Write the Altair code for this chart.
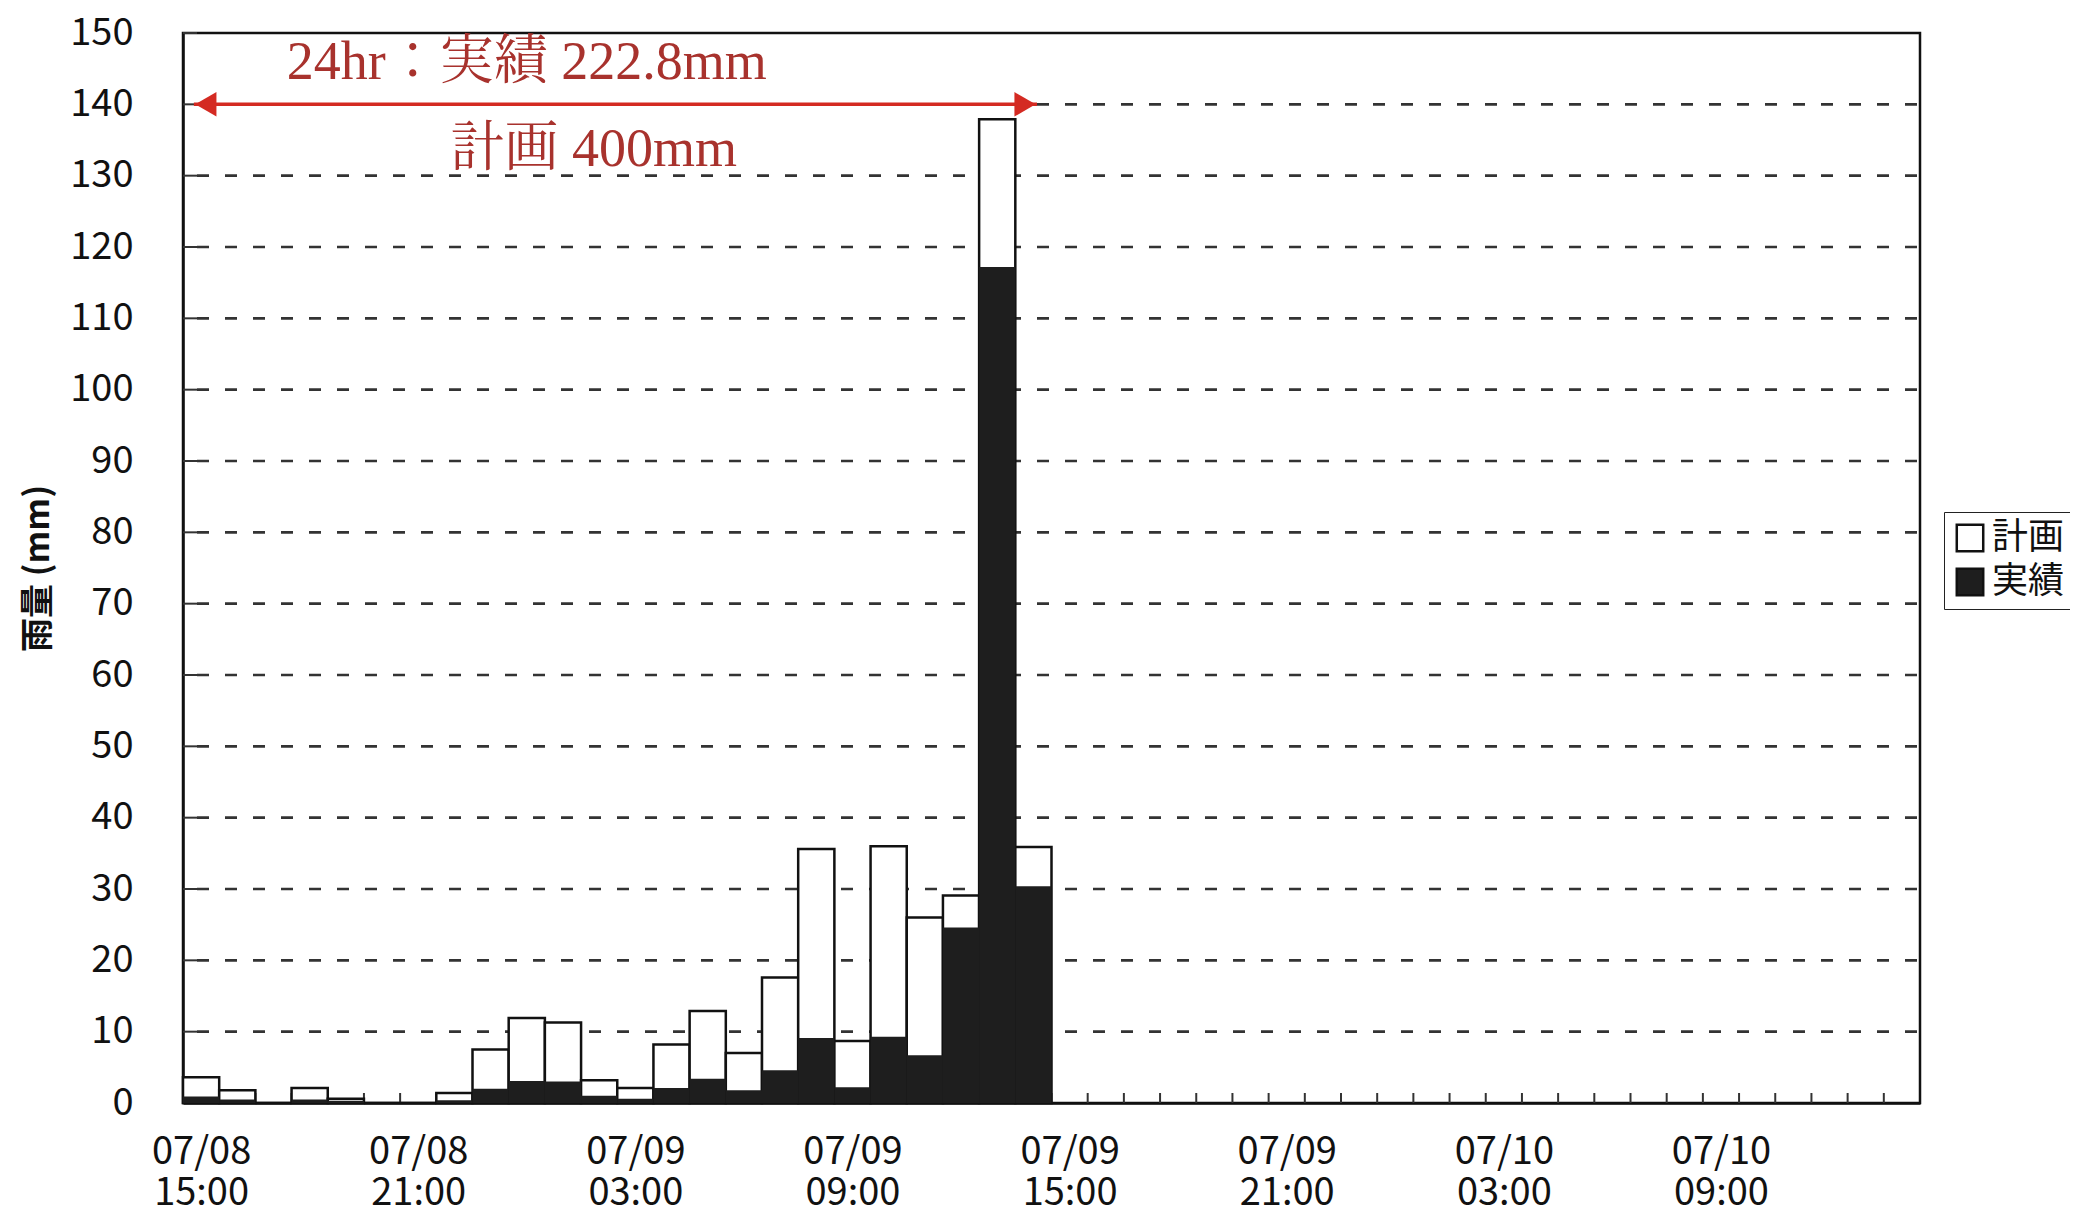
import json
import altair as alt
import pandas as pd

# ---- data (hourly, starting 07/08 15:00) ----
hour_index = list(range(24))
plan = [3.6, 1.8, 0, 2.1, 0.6, 0, 0, 1.4, 7.5, 11.9, 11.3, 3.2, 2.1, 8.2, 12.9, 7.0,
        17.6, 35.6, 8.7, 36.0, 26.0, 29.1, 137.9, 35.9]
actual = [0.9, 0.5, 0, 0.5, 0.3, 0, 0, 0.4, 2.0, 3.1, 3.0, 1.0, 0.6, 2.1, 3.4, 1.8,
          4.6, 9.1, 2.2, 9.3, 6.7, 24.6, 117.2, 30.4]
n_slots = 48
tick_pos = [0, 6, 12, 18, 24, 30, 36, 42]
tick_labels = ["07/08 15:00", "07/08 21:00", "07/09 03:00", "07/09 09:00",
               "07/09 15:00", "07/09 21:00", "07/10 03:00", "07/10 09:00"]
y_ticks = list(range(0, 151, 10))
series = ["計画", "実績"]
series_colors = ["white", "#1e1e1e"]

ann_text = ["24hr：実績 222.8mm", "計画 400mm"]
ann_x = [9.0, 10.85]
ann_y = [145.8, 133.6]
arrow_start, arrow_end, arrow_y = -0.2, 23.1, 140

FONT = "Liberation Sans Narrow, Noto Sans CJK JP, sans-serif"
SERIF = "Liberation Serif, Noto Serif CJK JP, Noto Sans CJK JP, serif"
RED = "#d42a22"
TXT_RED = "#a8322d"

df = pd.DataFrame({"i": hour_index, "plan": plan, "actual": actual})
bounds = pd.DataFrame({"b": [k + 0.5 for k in range(n_slots - 1)]})
yt = pd.DataFrame({"v": y_ticks})
grid_df = pd.DataFrame({"v": y_ticks[1:-1]})
ann = pd.DataFrame({"t": ann_text, "x": ann_x, "y": ann_y})
arrow = pd.DataFrame({"x": [arrow_start], "x2": [arrow_end], "y": [arrow_y]})

W, H = 1737, 1070

xs = alt.Scale(domain=[-0.5, n_slots - 0.5], nice=False, zero=False)
ys = alt.Scale(domain=[0, 150], nice=False)
label_expr = "split(" + json.dumps(tick_labels) + "[round(datum.value/6)], ' ')"
xax = alt.Axis(values=tick_pos, labelExpr=label_expr, title=None, grid=False,
               ticks=False, labelFont=FONT, labelFontSize=38, labelLineHeight=41,
               labelPadding=30, labelColor="#111", domainColor="#111", domainWidth=2.5,
               labelBaseline="top")
yax = alt.Axis(values=y_ticks, title="雨量 (mm)", titleFont="Noto Sans CJK JP",
               titleFontSize=34, titleFontWeight="bold", titleColor="#111",
               titlePadding=14, labelFont=FONT, labelFontSize=38, labelColor="#111",
               labelPadding=50, ticks=False, grid=False,
               domainColor="#111", domainWidth=2.5)


def X(f):
    return alt.X(f, scale=xs, axis=xax)


def Y(f):
    return alt.Y(f, scale=ys, axis=yax)


color_scale = alt.Scale(domain=series, range=series_colors)
legend = alt.Legend(orient="none", legendX=1761, legendY=479, title=None,
                    symbolType="square", symbolSize=700, symbolStrokeColor="#111",
                    symbolStrokeWidth=2.5, labelFont="Noto Sans CJK JP",
                    labelFontSize=36, labelColor="#111", strokeColor="#222",
                    padding=8, rowPadding=6, labelOffset=4)

grid = alt.Chart(grid_df).mark_rule(color="#333", strokeWidth=2.7,
                                    strokeDash=[12, 16]).encode(
    y=Y("v:Q"), x=alt.value(14), x2=alt.value(W))

minor_ticks = alt.Chart(bounds).mark_rule(color="#333", strokeWidth=2).encode(
    x=X("b:Q"), y=alt.value(H), y2=alt.value(H - 10))

inner_ticks = alt.Chart(yt).mark_rule(color="#333", strokeWidth=2).encode(
    y=Y("v:Q"), x=alt.value(0), x2=alt.value(14))

base = alt.Chart(df).transform_calculate(x0="datum.i - 0.5", x1="datum.i + 0.5")

plan_bars = base.transform_calculate(s="'" + series[0] + "'").mark_bar(
    stroke="#111", strokeWidth=2.5).encode(
    x=X("x0:Q"), x2="x1:Q", y=Y("plan:Q"), y2=alt.datum(0),
    color=alt.Color("s:N", scale=color_scale, legend=legend))

actual_bars = base.transform_calculate(s="'" + series[1] + "'").mark_bar(
    strokeWidth=0).encode(
    x=X("x0:Q"), x2="x1:Q", y=Y("actual:Q"), y2=alt.datum(0),
    color=alt.Color("s:N", scale=color_scale, legend=legend))

arrow_line = alt.Chart(arrow).mark_rule(color=RED, strokeWidth=3.5).encode(
    x=X("x:Q"), x2="x2:Q", y=Y("y:Q"))

head_l = alt.Chart(arrow).mark_point(shape="triangle-left", filled=True, color=RED,
                                     size=600, opacity=1, xOffset=12).encode(
    x=X("x:Q"), y=Y("y:Q"))
head_r = alt.Chart(arrow).mark_point(shape="triangle-right", filled=True, color=RED,
                                     size=600, opacity=1, xOffset=-12).encode(
    x=X("x2:Q"), y=Y("y:Q"))

texts = alt.Chart(ann).mark_text(font=SERIF, fontSize=54, color=TXT_RED,
                                 align="center", baseline="middle").encode(
    x=X("x:Q"), y=Y("y:Q"), text="t:N")

chart = alt.layer(grid, minor_ticks, inner_ticks, plan_bars, actual_bars, arrow_line,
                  head_l, head_r, texts).properties(
    width=W, height=H, autosize=alt.AutoSizeParams(type="none"),
    padding={"left": 175, "top": 25, "right": 150, "bottom": 106},
    background="white",
).configure_view(stroke="#111", strokeWidth=2.5)

chart.save("out.html", embed_options={"renderer": "svg", "actions": False})
